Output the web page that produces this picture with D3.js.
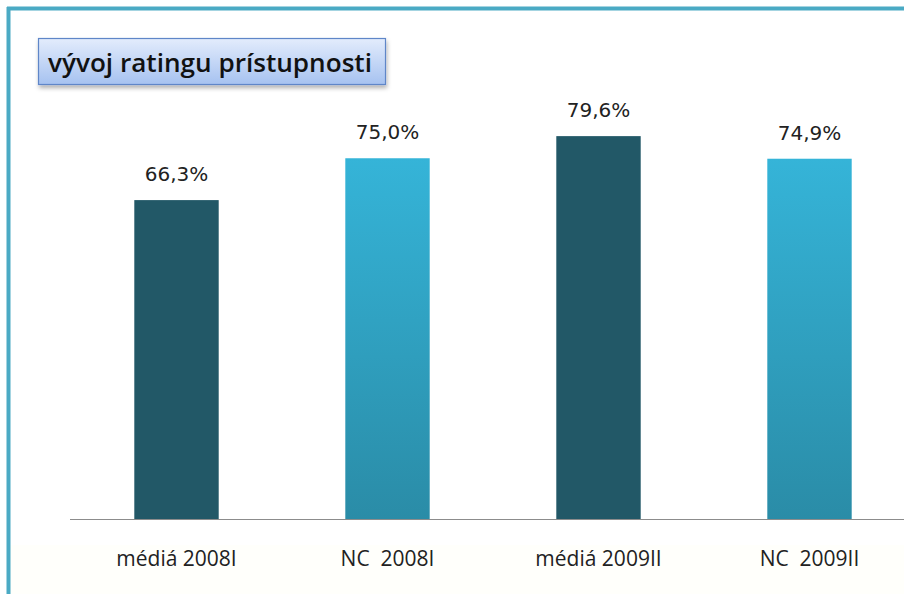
<!DOCTYPE html>
<html lang="sk">
<head>
    <meta charset="UTF-8">
    <title>vývoj ratingu prístupnosti</title>
    <script src="https://d3js.org/d3.v7.min.js"></script>
    <style>
        body { margin: 0; background: #fff; }
        svg { display: block; }
        .value { font-family: "DejaVu Sans", Verdana, sans-serif; font-size: 20px; fill: #222; text-anchor: middle; }
        .cat { font-family: "Open Sans", "Noto Sans", sans-serif; font-size: 21px; fill: #222; text-anchor: middle; }
        .title { font-family: "Open Sans", "Noto Sans", sans-serif; font-weight: 600; font-size: 26px; fill: #111; }
    </style>
</head>
<body>
    <svg width="904" height="594"></svg>
    <script>
        const width = 904;
        const height = 594;

        // data
        const categories = ["médiá 2008I", "NC  2008I", "médiá 2009II", "NC  2009II"];
        const values = [66.3, 75.0, 79.6, 74.9];
        const kinds = ["media", "nc", "media", "nc"];
        const valueLabels = ["66,3%", "75,0%", "79,6%", "74,9%"];

        const svg = d3.select("svg");

        // frame
        svg.append("rect").attr("width", width).attr("height", height).attr("fill", "#fff");
        svg.append("rect").attr("x", 10).attr("y", 545).attr("width", width).attr("height", height - 545)
            .attr("fill", "#fffffb");
        svg.append("line").attr("x1", 7).attr("x2", width).attr("y1", 8.5).attr("y2", 8.5)
            .attr("stroke", "#4aaac4").attr("stroke-width", 4);
        svg.append("line").attr("x1", 8.5).attr("x2", 8.5).attr("y1", 7).attr("y2", height)
            .attr("stroke", "#4aaac4").attr("stroke-width", 4);

        const defs = svg.append("defs");
        const g1 = defs.append("linearGradient").attr("id", "ncGrad")
            .attr("x1", 0).attr("x2", 0).attr("y1", 0).attr("y2", 1);
        g1.append("stop").attr("offset", "0%").attr("stop-color", "#35b4d8");
        g1.append("stop").attr("offset", "100%").attr("stop-color", "#2a8ca7");

        const g2 = defs.append("linearGradient").attr("id", "titleGrad")
            .attr("x1", 0).attr("x2", 0).attr("y1", 0).attr("y2", 1);
        g2.append("stop").attr("offset", "0%").attr("stop-color", "#e3ecfc");
        g2.append("stop").attr("offset", "100%").attr("stop-color", "#a6c2f0");

        const shadow = defs.append("filter").attr("id", "shadow")
            .attr("x", "-10%").attr("y", "-20%").attr("width", "120%").attr("height", "160%");
        shadow.append("feDropShadow").attr("dx", 1).attr("dy", 3).attr("stdDeviation", 2)
            .attr("flood-color", "#000").attr("flood-opacity", 0.3);

        // scales
        const x = d3.scaleBand().domain(categories).range([71, 915]).paddingInner(0.6).paddingOuter(0.3);
        const y = d3.scaleLinear().domain([0, 100]).range([519, 38]);

        const data = categories.map((c, i) => ({cat: c, value: values[i], kind: kinds[i], label: valueLabels[i]}));

        svg.selectAll(".bar")
            .data(data)
            .enter().append("rect")
            .attr("class", "bar")
            .attr("x", d => x(d.cat))
            .attr("y", d => y(d.value))
            .attr("width", x.bandwidth())
            .attr("height", d => y(0) - y(d.value))
            .attr("fill", d => d.kind === "media" ? "#225867" : "url(#ncGrad)");

        // baseline
        svg.append("line").attr("x1", 70).attr("x2", width).attr("y1", 519.5).attr("y2", 519.5)
            .attr("stroke", "#8c8c8c").attr("stroke-width", 1.2);

        svg.selectAll(".value")
            .data(data)
            .enter().append("text")
            .attr("class", "value")
            .attr("x", d => x(d.cat) + x.bandwidth() / 2)
            .attr("y", d => y(d.value) - 19)
            .text(d => d.label);

        svg.selectAll(".cat")
            .data(data)
            .enter().append("text")
            .attr("class", "cat")
            .attr("x", d => x(d.cat) + x.bandwidth() / 2)
            .attr("y", 566)
            .style("white-space", "pre")
            .attr("xml:space", "preserve")
            .text(d => d.cat);

        // title box
        svg.append("rect").attr("x", 38.5).attr("y", 38.5).attr("width", 347).attr("height", 46)
            .attr("fill", "url(#titleGrad)").attr("stroke", "#5e86c8").attr("stroke-width", 1.2)
            .attr("filter", "url(#shadow)");
        svg.append("text").attr("class", "title")
            .attr("x", 48).attr("y", 72)
            .attr("textLength", 324).attr("lengthAdjust", "spacingAndGlyphs")
            .text("vývoj ratingu prístupnosti");
    </script>
</body>
</html>
